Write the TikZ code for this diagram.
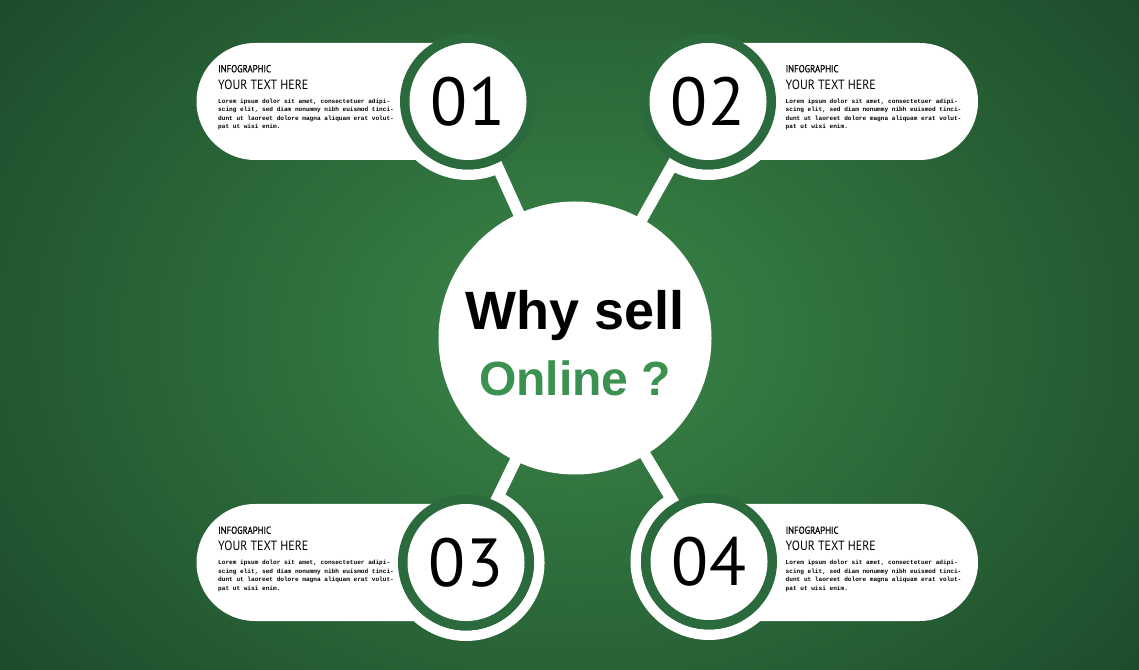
\documentclass[tikz,border=0pt]{standalone}
\usepackage{fontspec}
\setmainfont{Liberation Sans}
\newfontfamily\numfont{PT Sans}
\newfontfamily\headfont[FakeStretch=0.89]{PT Sans}
\newfontfamily\tagfont[FakeStretch=0.86, FakeBold=0.6]{PT Sans}
\newfontfamily\bodyfont{Liberation Mono}
\usetikzlibrary{positioning}

\definecolor{bgin}{RGB}{58,134,72}
\definecolor{bgout}{RGB}{28,74,43}
\definecolor{ringgreen}{RGB}{42,106,60}
\definecolor{qgreen}{RGB}{58,145,80}

\newcommand{\loremtext}{Lorem ipsum dolor sit amet, consectetuer adipi-\\scing elit, sed diam nonummy nibh euismod tinci-\\dunt ut laoreet dolore magna aliquam erat volut-\\pat ut wisi enim.}

\begin{document}
\begin{tikzpicture}[x=1pt, y=1pt,
    pill/.style={fill=white},
    link/.style={draw=white, line width=11.5pt},
    halo/.style={draw=white, line width=10.5pt},
    ringdisk/.style={circle, fill=ringgreen, minimum size=136pt, inner sep=0pt},
    numdisk/.style={circle, fill=white, minimum size=117pt, inner sep=0pt, font=\numfont\fontsize{68}{68}\selectfont},
    cardtag/.style={anchor=base west, inner sep=0pt, font=\tagfont\fontsize{10.2}{12}\selectfont},
    cardtitle/.style={anchor=base west, inner sep=0pt, font=\headfont\fontsize{13.4}{15}\selectfont},
    cardbody/.style={anchor=north west, inner sep=0pt, align=left, font=\bodyfont\bfseries\fontsize{6.1}{8.45}\selectfont}]

    % Background with a soft glow in the middle
    \useasboundingbox (0,0) rectangle (1139,669);
    \fill[bgout] (0,0) rectangle (1139,669);
    \begin{scope}
        \clip (0,0) rectangle (1139,669);
        \shade[inner color=bgin, outer color=bgout] (575,335) ellipse [x radius=740, y radius=560];
    \end{scope}

    % Centres of the four number discs and of the hub
    \coordinate (c1) at (468,567.5);
    \coordinate (c2) at (708,567.5);
    \coordinate (c3) at (466,106.5);
    \coordinate (c4) at (709,107.5);
    \coordinate (hubc) at (575,331);

    % Links from the discs to the hub
    \draw[link] (c1) -- (hubc);
    \draw[link] (c2) -- (hubc);
    \draw[link] (c3) -- (hubc);
    \draw[link] (c4) -- (hubc);

    % Pills
    \fill[pill] (468,626) -- (255,626) arc[start angle=90, end angle=270, radius=58.5] -- (468,509) -- cycle;
    \fill[pill] (708,626) -- (919.5,626) arc[start angle=90, end angle=-90, radius=58.5] -- (708,509) -- cycle;
    \fill[pill] (466,165) -- (255,165) arc[start angle=90, end angle=270, radius=58.5] -- (466,48) -- cycle;
    \fill[pill] (709,165) -- (919.5,165) arc[start angle=90, end angle=-90, radius=58.5] -- (709,48) -- cycle;

    % White outer arcs round the discs
    \draw[halo] (c1) ++(-145:73.25) arc[start angle=-145, end angle=-65.7, radius=73.25];
    \draw[halo] (c2) ++(-119.4:73.25) arc[start angle=-119.4, end angle=-35, radius=73.25];
    \draw[halo] (c3) ++(64.1:73.25) arc[start angle=64.1, end angle=-145, radius=73.25];
    \draw[halo] (c4) ++(121:73.25) arc[start angle=121, end angle=325, radius=73.25];

    % Green rings and number discs
    \node[ringdisk] (r1) at (c1) {};
    \node[ringdisk] (r2) at (c2) {};
    \node[ringdisk] (r3) at (c3) {};
    \node[ringdisk] (r4) at (c4) {};
    \node[numdisk] (n1) at (c1) {01};
    \node[numdisk] (n2) at (c2) {02};
    \node[numdisk] (n3) at (c3) {03};
    \node[numdisk] (n4) at (c4) {04};

    % Hub
    \node[circle, fill=white, minimum size=273pt, inner sep=0pt] (hub) at (hubc) {};
    \node[anchor=base, inner sep=0pt, font=\bfseries\fontsize{54}{54}\selectfont] (why) at ([yshift=8.7]hub.center) {Why sell};
    \node[anchor=base, inner sep=0pt, text=qgreen, font=\bfseries\fontsize{48}{48}\selectfont] (online) at ([yshift=-57.5]hub.center) {Online ?};

    % Card 01
    \node[cardtag] (tag1) at (218,596.7) {INFOGRAPHIC};
    \node[cardtitle] (head1) at (218,579.8) {YOUR TEXT HERE};
    \node[cardbody] (body1) at (218,570.2) {\loremtext};

    % Card 02
    \node[cardtag] (tag2) at (785.5,596.7) {INFOGRAPHIC};
    \node[cardtitle] (head2) at (785.5,579.8) {YOUR TEXT HERE};
    \node[cardbody] (body2) at (785.5,570.2) {\loremtext};

    % Card 03
    \node[cardtag] (tag3) at (218,135.2) {INFOGRAPHIC};
    \node[cardtitle] (head3) at (218,118.3) {YOUR TEXT HERE};
    \node[cardbody] (body3) at (218,108.7) {\loremtext};

    % Card 04
    \node[cardtag] (tag4) at (785.5,135.2) {INFOGRAPHIC};
    \node[cardtitle] (head4) at (785.5,118.3) {YOUR TEXT HERE};
    \node[cardbody] (body4) at (785.5,108.7) {\loremtext};
\end{tikzpicture}
\end{document}
